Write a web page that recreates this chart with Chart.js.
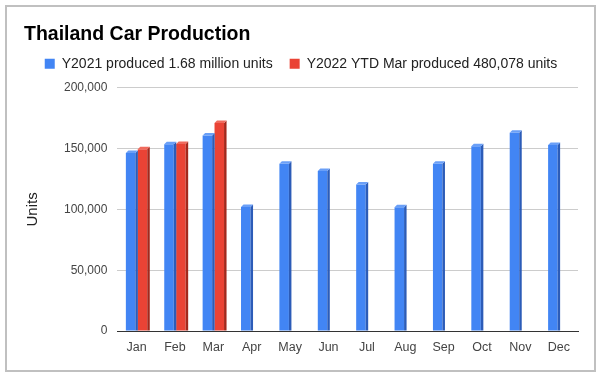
<!DOCTYPE html>
<html>
<head>
<meta charset="utf-8">
<script src="https://cdn.jsdelivr.net/npm/chart.js@4"></script>
<style>
  body { margin: 0; background: #fff; }
  canvas { display: block; }
</style>
</head>
<body>
<canvas id="carChart" width="600" height="374"></canvas>
<script>
// Données
const months = ['Jan', 'Feb', 'Mar', 'Apr', 'May', 'Jun', 'Jul', 'Aug', 'Sep', 'Oct', 'Nov', 'Dec'];
const y2021 = [146300, 153600, 160700, 101900, 137500, 131500, 120500, 101700, 137500, 152000, 163000, 153000];
const y2022 = [149500, 153800, 171000, null, null, null, null, null, null, null, null, null];
const yTicks = [0, 50000, 100000, 150000, 200000];

const FONT = "'Liberation Sans', Arial, sans-serif";

// Effet 3D : côté sombre + dessus des barres
const bar3d = {
  id: 'bar3d',
  afterDatasetsDraw(chart) {
    const ctx = chart.ctx;
    const d = 2.5;
    chart.data.datasets.forEach((ds, i) => {
      const meta = chart.getDatasetMeta(i);
      meta.data.forEach((el, j) => {
        if (ds.data[j] == null) return;
        const left = el.x - el.width / 2;
        const right = el.x + el.width / 2;
        ctx.save();
        ctx.fillStyle = ds.sideColor;
        ctx.beginPath();
        ctx.moveTo(right, el.y);
        ctx.lineTo(right + d, el.y - d);
        ctx.lineTo(right + d, el.base);
        ctx.lineTo(right, el.base);
        ctx.closePath();
        ctx.fill();
        ctx.fillStyle = ds.topColor;
        ctx.beginPath();
        ctx.moveTo(left, el.y);
        ctx.lineTo(left + d, el.y - d);
        ctx.lineTo(right + d, el.y - d);
        ctx.lineTo(right, el.y);
        ctx.closePath();
        ctx.fill();
        ctx.restore();
      });
    });
  }
};

// Cadre gris autour du graphique
const frame = {
  id: 'frame',
  beforeDraw(chart) {
    const ctx = chart.ctx;
    ctx.save();
    ctx.fillStyle = '#fff';
    ctx.fillRect(0, 0, chart.width, chart.height);
    ctx.strokeStyle = '#c0c0c0';
    ctx.lineWidth = 2;
    ctx.strokeRect(6, 6, 589, 365);
    ctx.restore();
  }
};

const ctx = document.getElementById('carChart').getContext('2d');

new Chart(ctx, {
  type: 'bar',
  data: {
    labels: months,
    datasets: [{
      label: 'Y2021 produced 1.68 million units',
      data: y2021,
      backgroundColor: '#4285f4',
      sideColor: '#2c5cb8',
      topColor: '#6a9ff7',
      categoryPercentage: 0.62,
      barPercentage: 0.8,
    }, {
      label: 'Y2022 YTD Mar produced 480,078 units',
      data: y2022,
      backgroundColor: '#ea4335',
      sideColor: '#a3281c',
      topColor: '#f06a5d',
      categoryPercentage: 0.62,
      barPercentage: 0.8,
    }],
  },
  options: {
    responsive: false,
    animation: false,
    layout: {
      padding: { left: 24, right: 22, top: 10, bottom: 10 },
    },
    plugins: {
      title: {
        display: true,
        text: 'Thailand Car Production',
        align: 'start',
        color: '#000',
        font: { family: FONT, size: 19.5, weight: 'bold', lineHeight: 0.5 },
        padding: { top: 20, bottom: 0 },
      },
      subtitle: {
        // simple espace entre la légende et le graphique
        display: true,
        text: '',
        weight: 900,
        font: { size: 7, lineHeight: 1 },
        padding: 0,
      },
      legend: {
        align: 'center',
        labels: {
          boxWidth: 10,
          boxHeight: 10,
          padding: 17,
          color: '#222',
          font: { family: FONT, size: 14 },
        },
      },
      tooltip: { enabled: false },
    },
    scales: {
      x: {
        grid: { display: false, drawTicks: false },
        border: { display: true, color: '#333', width: 1 },
        ticks: {
          padding: 9,
          color: '#444',
          font: { family: FONT, size: 12.5 },
        },
      },
      y: {
        min: 0,
        max: 200000,
        afterBuildTicks(scale) {
          scale.ticks = yTicks.map(v => ({ value: v }));
        },
        grid: { color: '#cccccc', drawTicks: false },
        border: { display: false },
        ticks: {
          padding: 10,
          color: '#444',
          font: { family: FONT, size: 12 },
          callback: v => v.toLocaleString('en-US'),
        },
        title: {
          display: true,
          text: 'Units',
          color: '#222',
          font: { family: FONT, size: 15 },
          padding: { top: 0, bottom: 12 },
        },
      },
    },
  },
  plugins: [frame, bar3d],
});
</script>
</body>
</html>
